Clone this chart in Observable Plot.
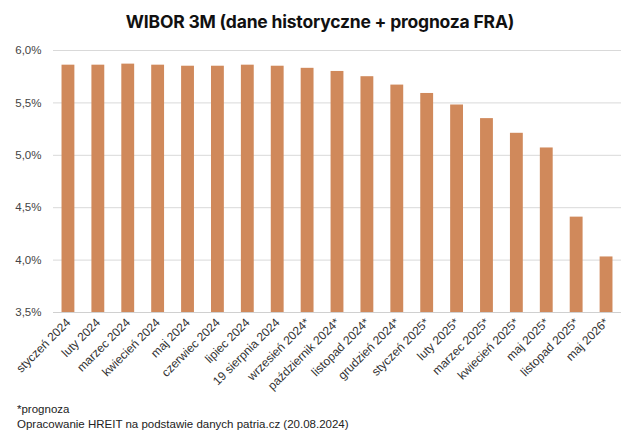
<!DOCTYPE html>
<html>
<head>
<meta charset="utf-8">
<script src="https://cdn.jsdelivr.net/npm/d3@7"></script>
<script src="https://cdn.jsdelivr.net/npm/@observablehq/plot@0.6"></script>
<style>
  html, body { margin: 0; padding: 0; background: #fff; }
  #wrap { position: relative; width: 640px; height: 437px; overflow: hidden; font-family: "Liberation Sans", Arial, sans-serif; }
  #title { position: absolute; left: 0; top: 11px; width: 640px; text-align: center; font-family: Inter, "Liberation Sans", sans-serif; font-weight: 700; font-size: 17.5px; color: #111; letter-spacing: -0.2px; }
  #caption { position: absolute; left: 17px; top: 402px; font-size: 11.5px; line-height: 15px; color: #222; }
  #chart { position: absolute; left: 0; top: 0; }
</style>
</head>
<body>
<div id="wrap">
  <div id="chart"></div>
  <div id="title">WIBOR 3M (dane historyczne + prognoza FRA)</div>
  <div id="caption">*prognoza<br>Opracowanie HREIT na podstawie danych patria.cz (20.08.2024)</div>
</div>
<script>
const categories = [
  "styczeń 2024", "luty 2024", "marzec 2024", "kwiecień 2024", "maj 2024",
  "czerwiec 2024", "lipiec 2024", "19 sierpnia 2024", "wrzesień 2024*",
  "październik 2024*", "listopad 2024*", "grudzień 2024*", "styczeń 2025*",
  "luty 2025*", "marzec 2025*", "kwiecień 2025*", "maj 2025*",
  "listopad 2025*", "maj 2026*"
];
const values = [
  5.86, 5.86, 5.87, 5.86, 5.85, 5.85, 5.86, 5.85, 5.83,
  5.80, 5.75, 5.67, 5.59, 5.48, 5.35, 5.21, 5.07, 4.41, 4.03
];
const yTicks = [3.5, 4.0, 4.5, 5.0, 5.5, 6.0];

const data = categories.map((c, i) => ({ cat: c, val: values[i] }));
const fmt = v => v.toFixed(1).replace(".", ",") + "%";

const chart = Plot.plot({
  width: 640,
  height: 437,
  marginTop: 50,
  marginBottom: 125,
  marginLeft: 53,
  marginRight: 19,
  style: { fontFamily: "'Liberation Sans', Arial, sans-serif", fontSize: "11px", background: "transparent" },
  x: { domain: categories, paddingInner: 0.57, paddingOuter: 0.285, round: false, label: null },
  y: { domain: [3.5, 6.0], label: null },
  marks: [
    Plot.gridY(yTicks, { stroke: "#d9d9d9", strokeOpacity: 1, strokeWidth: 1 }),
    Plot.barY(data, { x: "cat", y1: 3.5, y2: "val", fill: "#D0895B" }),
    Plot.ruleY([3.5], { stroke: "#d0d0d0", strokeWidth: 1 }),
    Plot.axisY(yTicks, { tickSize: 0, tickPadding: 12, tickFormat: fmt, fill: "#444", fontSize: 11.5 }),
    Plot.axisX({ tickSize: 0, tickPadding: 8, tickRotate: -45, fill: "#333", fontSize: 12 })
  ]
});
document.getElementById("chart").appendChild(chart);
</script>
</body>
</html>
